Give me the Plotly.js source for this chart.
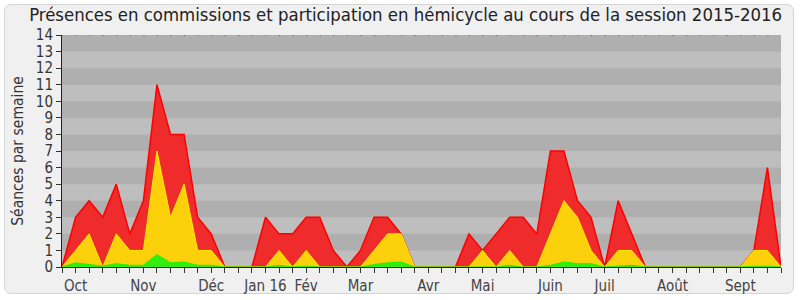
<!DOCTYPE html>
<html>
<head>
<meta charset="utf-8">
<script src="https://cdn.plot.ly/plotly-3.0.1.min.js"></script>
<style>
  html, body { margin: 0; padding: 0; background: #ffffff; }
  #frame { position: absolute; left: 4px; top: 4px; width: 788px; height: 288px;
           border: 1px solid #d4d4d4; border-radius: 7px; background: #f0f0f0; }
  #chart { position: absolute; left: 0; top: 0; width: 800px; height: 300px; }
</style>
</head>
<body>
<div id="frame"></div>
<div id="chart"></div>
<script>
// Week index (x positions, one per week of the session)
const weeks = [0,1,2,3,4,5,6,7,8,9,10,11,12,13,14,15,16,17,18,19,20,21,22,23,24,25,26,
               27,28,29,30,31,32,33,34,35,36,37,38,39,40,41,42,43,44,45,46,47,48,49,50,51,52,53];

// Total séances per week (top of red area)
const totalSeances = [0,3,4,3,5,2,4,11,8,8,3,2,0,0,0,3,2,2,3,3,1,0,1,3,3,2,0,
                      0,0,0,2,1,2,3,3,2,7,7,4,3,0,4,2,0,0,0,0,0,0,0,0,1,6,0];

// Présences en commission (top of yellow area)
const commissions = [0,1,2,0,2,1,1,7,3,5,1,1,0,0,0,0,1,0,1,0,0,0,0,1,2,2,0,
                     0,0,0,0,1,0,1,0,0,2,4,3,1,0,1,1,0,0,0,0,0,0,0,0,1,1,0];

// Participation en hémicycle (top of green area)
const hemicycle = [0,0.25,0.15,0.05,0.2,0.1,0.1,0.75,0.25,0.3,0.1,0.1,0,0,0,0,0.1,0,0.05,0,0,0,0,0.15,0.25,0.3,0,
                   0,0,0,0,0,0,0.1,0,0,0.1,0.3,0.2,0.2,0,0.05,0.1,0,0,0,0,0,0,0,0,0.05,0.05,0];

// Month labels and the week at which they are printed
const monthLabels = ["Oct","Nov","Déc","Jan 16","Fév","Mar","Avr","Mai","Juin","Juil","Août","Sept"];
const monthWeeks  = [1,6,11,15,18,22,27,31,36,40,45,50];

const yTicks = [0,1,2,3,4,5,6,7,8,9,10,11,12,13,14];

const tickText = weeks.map(w => {
  const i = monthWeeks.indexOf(w);
  return i >= 0 ? monthLabels[i] : "";
});

const traces = [
  { x: weeks, y: totalSeances, type: "scatter", mode: "lines", fill: "tozeroy",
    line: { color: "#ff0000", width: 1.5 }, fillcolor: "#ef2b2b", hoverinfo: "skip" },
  { x: weeks, y: commissions, type: "scatter", mode: "lines", fill: "tozeroy",
    line: { color: "#ffee00", width: 1 }, fillcolor: "#fcd00a", hoverinfo: "skip" },
  { x: weeks, y: hemicycle, type: "scatter", mode: "lines", fill: "tozeroy",
    line: { color: "#22ee00", width: 1 }, fillcolor: "#33ee11", hoverinfo: "skip" }
];

// alternating horizontal bands
const shapes = [];
yTicks.forEach(v => {
  if (v % 2 === 1) {
    shapes.push({ type: "rect", xref: "paper", yref: "y", x0: 0, x1: 1, y0: v, y1: v + 1,
                  fillcolor: "#afafaf", line: { width: 0 }, layer: "below" });
  }
});
shapes.push({ type: "line", xref: "paper", yref: "y", x0: 0, x1: 1, y0: 14, y1: 14,
              line: { color: "#222", width: 1, dash: "1px,12.566px" }, layer: "above" });

const layout = {
  width: 800, height: 300,
  margin: { l: 62, r: 19, t: 35, b: 33 },
  paper_bgcolor: "rgba(0,0,0,0)",
  plot_bgcolor: "#bebebe",
  showlegend: false,
  font: { family: "'DejaVu Sans Condensed', 'DejaVu Sans', sans-serif", color: "#333" },
  title: { text: "Présences en commissions et participation en hémicycle au cours de la session 2015-2016",
           font: { size: 18.4, color: "#222" }, x: 0.507, xanchor: "center",
           yref: "container", y: 0.952, yanchor: "middle" },
  xaxis: { range: [0, 53], tickmode: "array", tickvals: weeks, ticktext: tickText,
           ticks: "outside", ticklen: 5, tickcolor: "#333", showgrid: false, zeroline: false,
           showline: true, linecolor: "#222", linewidth: 1,
           tickfont: { size: 15, color: "#444" }, fixedrange: true },
  yaxis: { range: [0, 14], tickmode: "array", tickvals: yTicks,
           ticks: "outside", ticklen: 5, tickcolor: "#333", showgrid: false, zeroline: false,
           showline: true, linecolor: "#222", linewidth: 1,
           tickfont: { size: 15, color: "#333" },
           title: { text: "Séances par semaine", font: { size: 15.5, color: "#333" }, standoff: 8 },
           fixedrange: true },
  shapes: shapes
};

Plotly.newPlot("chart", traces, layout, { displayModeBar: false, staticPlot: true });
</script>
</body>
</html>
